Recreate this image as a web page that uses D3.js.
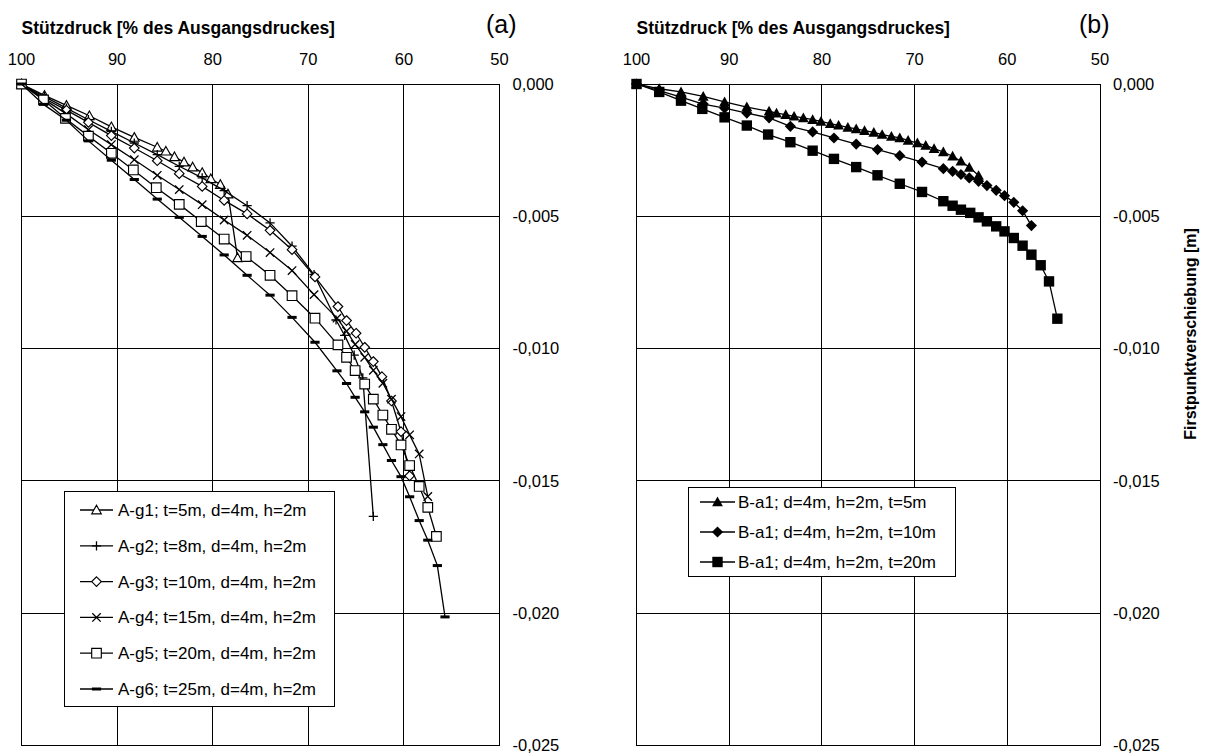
<!DOCTYPE html>
<html>
<head>
<meta charset="utf-8">
<script src="https://cdn.jsdelivr.net/npm/d3@7/dist/d3.min.js"></script>
<style>
  html, body { margin: 0; padding: 0; background: #fff; }
  svg { display: block; font-family: "Liberation Sans", Arial, sans-serif; }
</style>
</head>
<body>
<svg id="chart" width="1212" height="756"></svg>
<script>
// Axis ticks (support pressure in %, crown displacement in m)
const pressureTicks = [100, 90, 80, 70, 60, 50];
const displacementTicks = [0, -0.005, -0.010, -0.015, -0.020, -0.025];

// Panel (a): series A-g1 … A-g6
const ag1P = [100, 97.6, 95.3, 92.9, 90.6, 88.2, 85.8, 84.9, 84.0, 83.0, 82.1, 81.1, 80.2, 79.2, 78.4, 77.4];
const ag1U = [0, -0.00043, -0.00081, -0.00120, -0.00162, -0.00202, -0.00239, -0.00254, -0.00275, -0.00295, -0.00314, -0.00335, -0.00358, -0.00380, -0.00416, -0.00657];

const ag2P = [100, 97.6, 95.3, 93.0, 90.6, 88.2, 85.8, 83.5, 81.1, 78.8, 76.4, 74.0, 71.7, 69.4, 67.1, 66.2, 65.2, 64.3, 63.2];
const ag2U = [0, -0.00048, -0.00091, -0.00135, -0.00179, -0.00223, -0.00267, -0.00311, -0.00355, -0.00403, -0.00460, -0.00525, -0.00613, -0.00720, -0.00892, -0.00950, -0.01025, -0.01111, -0.01634];

const ag3P = [100, 97.6, 95.3, 93.0, 90.6, 88.2, 85.8, 83.5, 81.1, 78.8, 76.4, 74.0, 71.7, 69.3, 66.9, 66.0, 65.0, 64.1, 63.2, 62.3, 61.3, 60.3, 59.4];
const ag3U = [0, -0.00055, -0.00099, -0.00145, -0.00195, -0.00242, -0.00290, -0.00339, -0.00387, -0.00440, -0.00491, -0.00553, -0.00626, -0.00729, -0.00841, -0.00894, -0.00942, -0.00995, -0.01049, -0.01106, -0.01198, -0.01314, -0.01481];

const ag4P = [100, 97.6, 95.3, 93.0, 90.6, 88.2, 85.8, 83.5, 81.1, 78.8, 76.4, 74.0, 71.7, 69.4, 67.0, 66.0, 65.1, 64.1, 63.2, 62.2, 61.3, 60.3, 59.4, 58.4, 57.5];
const ag4U = [0, -0.00059, -0.00113, -0.00173, -0.00229, -0.00286, -0.00345, -0.00399, -0.00456, -0.00514, -0.00572, -0.00637, -0.00705, -0.00796, -0.00885, -0.00934, -0.00984, -0.01033, -0.01082, -0.01131, -0.01191, -0.01257, -0.01326, -0.01398, -0.01559];

const ag5P = [100, 97.7, 95.4, 93.0, 90.6, 88.3, 85.9, 83.5, 81.2, 78.8, 76.5, 74.0, 71.7, 69.3, 66.9, 66.0, 65.1, 64.1, 63.2, 62.2, 61.3, 60.3, 59.4, 58.4, 57.5, 56.6];
const ag5U = [0, -0.00060, -0.00130, -0.00197, -0.00262, -0.00325, -0.00392, -0.00455, -0.00520, -0.00586, -0.00652, -0.00723, -0.00800, -0.00885, -0.00986, -0.01033, -0.01083, -0.01134, -0.01191, -0.01251, -0.01305, -0.01364, -0.01442, -0.01521, -0.01600, -0.01710];

const ag6P = [100, 97.7, 95.3, 93.0, 90.6, 88.2, 85.8, 83.5, 81.1, 78.8, 76.4, 74.0, 71.7, 69.3, 67.0, 66.0, 65.1, 64.1, 63.2, 62.2, 61.3, 60.3, 59.4, 58.4, 57.5, 56.5, 55.7];
const ag6U = [0, -0.00077, -0.00137, -0.00215, -0.00288, -0.00361, -0.00435, -0.00504, -0.00576, -0.00646, -0.00723, -0.00798, -0.00882, -0.00976, -0.01084, -0.01132, -0.01184, -0.01239, -0.01297, -0.01363, -0.01423, -0.01484, -0.01560, -0.01650, -0.01724, -0.01820, -0.02014];

const seriesNamesA = [
  "A-g1; t=5m, d=4m, h=2m",
  "A-g2; t=8m, d=4m, h=2m",
  "A-g3; t=10m, d=4m, h=2m",
  "A-g4; t=15m, d=4m, h=2m",
  "A-g5; t=20m, d=4m, h=2m",
  "A-g6; t=25m, d=4m, h=2m"
];

// Panel (b): series B-a1 with t = 5, 10, 20 m
const b5P = [100, 97.55, 95.2, 92.8, 90.5, 88.1, 85.7, 84.9, 83.9, 83.0, 82.0, 81.0, 80.1, 79.1, 78.2, 77.2, 76.3, 75.4, 74.4, 73.5, 72.5, 71.6, 70.7, 69.7, 68.8, 67.9, 66.9, 65.9, 65.0, 64.1, 63.1];
const b5U = [0, -0.00018, -0.00030, -0.00047, -0.00068, -0.00087, -0.00103, -0.00110, -0.00116, -0.00122, -0.00128, -0.00135, -0.00141, -0.00150, -0.00156, -0.00164, -0.00170, -0.00176, -0.00183, -0.00191, -0.00198, -0.00204, -0.00213, -0.00223, -0.00232, -0.00244, -0.00257, -0.00273, -0.00292, -0.00315, -0.00346];

const b10P = [100, 97.55, 95.2, 92.8, 90.5, 88.1, 85.7, 83.4, 81.0, 78.7, 76.3, 74.0, 71.6, 69.2, 66.9, 65.9, 65.0, 64.1, 63.1, 62.2, 61.2, 60.3, 59.3, 58.35, 57.4];
const b10U = [0, -0.00025, -0.00050, -0.00076, -0.00091, -0.00110, -0.00128, -0.00160, -0.00181, -0.00204, -0.00227, -0.00248, -0.00271, -0.00295, -0.00320, -0.00330, -0.00342, -0.00355, -0.00368, -0.00384, -0.00402, -0.00422, -0.00447, -0.00479, -0.00535];

const b20P = [100, 97.55, 95.2, 92.9, 90.5, 88.1, 85.8, 83.4, 81.0, 78.7, 76.3, 74.0, 71.6, 69.2, 66.9, 65.9, 65.0, 64.0, 63.1, 62.2, 61.2, 60.3, 59.3, 58.35, 57.4, 56.4, 55.5, 54.6];
const b20U = [0, -0.00030, -0.00063, -0.00094, -0.00126, -0.00157, -0.00191, -0.00220, -0.00252, -0.00283, -0.00314, -0.00345, -0.00377, -0.00408, -0.00443, -0.00460, -0.00475, -0.00487, -0.00504, -0.00519, -0.00538, -0.00557, -0.00582, -0.00611, -0.00645, -0.00685, -0.00746, -0.00887];

const seriesNamesB = [
  "B-a1; d=4m, h=2m, t=5m",
  "B-a1; d=4m, h=2m, t=10m",
  "B-a1; d=4m, h=2m, t=20m"
];

const svg = d3.select("#chart");

// Marker shapes, centred on (0,0)
function markerPath(type) {
  switch (type) {
    case "triOpen":
    case "triFill": { const s = type === "triOpen" ? 4.8 : 5.4; return `M0,${-s}L${s},${s*0.8}L${-s},${s*0.8}Z`; }
    case "diaOpen": return "M0,-4.8L4.8,0L0,4.8L-4.8,0Z";
    case "diaFill": return "M0,-5.6L5.6,0L0,5.6L-5.6,0Z";
    case "sqOpen": return "M-4.8,-4.8H4.8V4.8H-4.8Z";
    case "sqFill": return "M-5.2,-5.2H5.2V5.2H-5.2Z";
    case "plus": return "M-4.6,0H4.6M0,-4.6V4.6";
    case "cross": return "M-4.2,-4.2L4.2,4.2M-4.2,4.2L4.2,-4.2";
    case "dash": return "M-4.6,-1.5H4.6V1.5H-4.6Z";
  }
}
function drawMarker(g, type, x, y) {
  const p = g.append("path").attr("d", markerPath(type)).attr("transform", `translate(${x},${y})`);
  if (type === "triOpen" || type === "diaOpen" || type === "sqOpen") {
    p.attr("fill", "#fff").attr("stroke", "#000").attr("stroke-width", 1.15);
  } else if (type === "plus" || type === "cross") {
    p.attr("fill", "none").attr("stroke", "#000").attr("stroke-width", 1.3);
  } else {
    p.attr("fill", "#000").attr("stroke", "none");
  }
}

function drawPanel(cfg) {
  const x = d3.scaleLinear().domain([100, 50]).range([cfg.left, cfg.right]);
  const y = d3.scaleLinear().domain([0, -0.025]).range([84, 745.5]);
  const g = svg.append("g");

  // plot area and grid
  g.append("rect").attr("x", cfg.left).attr("y", 84).attr("width", cfg.right - cfg.left).attr("height", 745.5 - 84)
    .attr("fill", "#fff");
  const grid = g.append("g").attr("stroke", "#000").attr("stroke-width", 1).attr("shape-rendering", "crispEdges");
  grid.selectAll("line.h").data(displacementTicks).join("line")
    .attr("x1", cfg.left).attr("x2", cfg.right).attr("y1", d => y(d)).attr("y2", d => y(d));
  grid.selectAll("line.v").data(pressureTicks).join("line")
    .attr("y1", 84).attr("y2", 745.5).attr("x1", d => x(d)).attr("x2", d => x(d));

  // top axis labels
  g.selectAll("text.xt").data(pressureTicks).join("text")
    .attr("x", d => x(d)).attr("y", 65).attr("text-anchor", "middle")
    .attr("font-size", 16.5).text(d => d);

  // right axis labels (decimal comma)
  const fmt = d => d3.format(".3f")(d).replace("−", "-").replace(".", ",");
  g.selectAll("text.yt").data(displacementTicks).join("text")
    .attr("x", cfg.right + 13).attr("y", d => y(d)).attr("dy", "0.35em")
    .attr("font-size", 16.5).text(fmt);

  // axis title and panel letter
  g.append("text").attr("x", cfg.left).attr("y", 34).attr("font-size", 17.5).attr("font-weight", "bold")
    .text("Stützdruck [% des Ausgangsdruckes]");
  g.append("text").attr("x", cfg.letterX).attr("y", 33).attr("font-size", 25).text(cfg.letter);

  // series
  const line = d3.line().x(d => x(d[0])).y(d => y(d[1]));
  cfg.series.forEach(s => {
    const pts = s.p.map((v, i) => [v, s.u[i]]);
    g.append("path").attr("d", line(pts)).attr("fill", "none").attr("stroke", "#000").attr("stroke-width", 1.3);
    const mg = g.append("g");
    pts.forEach(d => drawMarker(mg, s.marker, x(d[0]), y(d[1])));
  });

  // legend
  const L = cfg.legend;
  const lg = g.append("g");
  lg.append("rect").attr("x", L.x).attr("y", L.y).attr("width", L.w).attr("height", L.h)
    .attr("fill", "#fff").attr("stroke", "#000").attr("stroke-width", 1).attr("shape-rendering", "crispEdges");
  cfg.series.forEach((s, i) => {
    const cy = L.y + L.first + i * L.step;
    lg.append("line").attr("x1", L.x + L.lineX0).attr("x2", L.x + L.lineX1).attr("y1", cy).attr("y2", cy)
      .attr("stroke", "#000").attr("stroke-width", 1.3);
    drawMarker(lg, s.marker, L.x + (L.lineX0 + L.lineX1) / 2, cy);
    lg.append("text").attr("x", L.x + L.textX).attr("y", cy).attr("dy", "0.35em")
      .attr("font-size", L.fontSize).text(s.name);
  });
}

drawPanel({
  left: 21.5, right: 499.5, letter: "(a)", letterX: 486,
  series: [
    { p: ag1P, u: ag1U, marker: "triOpen", name: seriesNamesA[0] },
    { p: ag2P, u: ag2U, marker: "plus", name: seriesNamesA[1] },
    { p: ag3P, u: ag3U, marker: "diaOpen", name: seriesNamesA[2] },
    { p: ag4P, u: ag4U, marker: "cross", name: seriesNamesA[3] },
    { p: ag5P, u: ag5U, marker: "sqOpen", name: seriesNamesA[4] },
    { p: ag6P, u: ag6U, marker: "dash", name: seriesNamesA[5] }
  ],
  legend: { x: 64, y: 491, w: 270, h: 215, first: 19, step: 35.8, lineX0: 16, lineX1: 49, textX: 54, fontSize: 17 }
});

drawPanel({
  left: 636.5, right: 1100, letter: "(b)", letterX: 1079,
  series: [
    { p: b5P, u: b5U, marker: "triFill", name: seriesNamesB[0] },
    { p: b10P, u: b10U, marker: "diaFill", name: seriesNamesB[1] },
    { p: b20P, u: b20U, marker: "sqFill", name: seriesNamesB[2] }
  ],
  legend: { x: 688, y: 487, w: 267, h: 89, first: 15, step: 30, lineX0: 12, lineX1: 47, textX: 50, fontSize: 17 }
});

// right-hand axis title
svg.append("text")
  .attr("transform", "translate(1196,334) rotate(-90)")
  .attr("text-anchor", "middle").attr("font-size", 16).attr("font-weight", "bold")
  .text("Firstpunktverschiebung [m]");
</script>
</body>
</html>
